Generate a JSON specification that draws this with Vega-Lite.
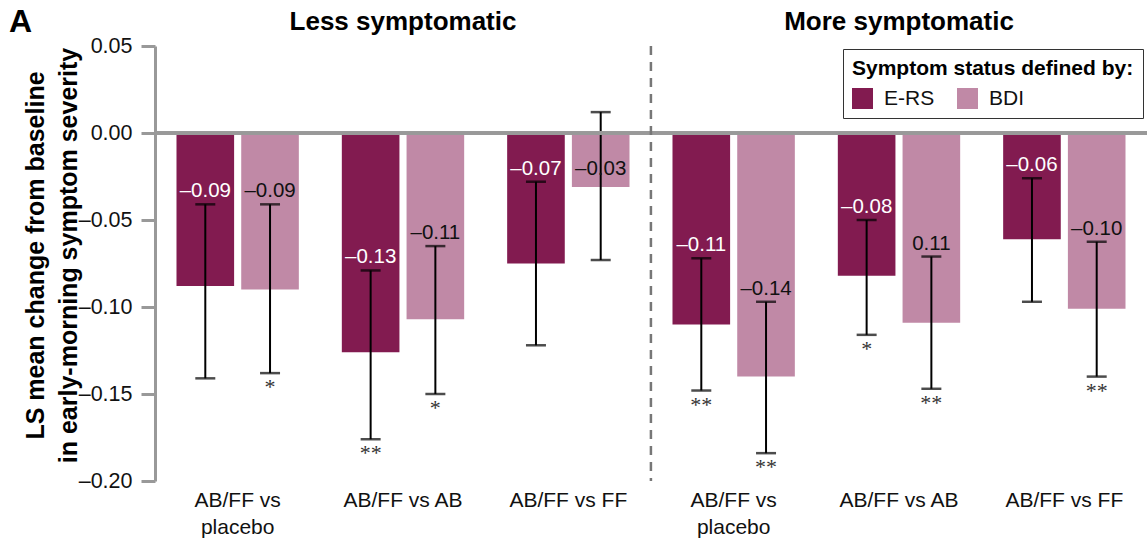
{
  "$schema": "https://vega.github.io/schema/vega-lite/v6.json",
  "width": 992,
  "height": 435,
  "autosize": {"type": "none"},
  "padding": {"left": 155, "top": 46, "right": 0, "bottom": 60},
  "background": "white",
  "title": {"text": "A", "anchor": "start", "frame": "group", "dx": -146, "dy": 30, "baseline": "top", "fontSize": 32, "fontWeight": "bold", "font": "Liberation Sans", "color": "#000", "offset": 0},
  "config": {"font": "Liberation Sans", "view": {"stroke": null}},
  "datasets": {
    "bars": [
      {"key": "Less symptomatic|AB/FF vs placebo", "status": "E-RS", "mean": -0.088, "lo": -0.141, "hi": -0.041, "labelAt": -0.041, "label": "–0.09", "sig": ""},
      {"key": "Less symptomatic|AB/FF vs placebo", "status": "BDI", "mean": -0.090, "lo": -0.138, "hi": -0.041, "labelAt": -0.041, "label": "–0.09", "sig": "*"},
      {"key": "Less symptomatic|AB/FF vs AB", "status": "E-RS", "mean": -0.126, "lo": -0.176, "hi": -0.079, "labelAt": -0.079, "label": "–0.13", "sig": "**"},
      {"key": "Less symptomatic|AB/FF vs AB", "status": "BDI", "mean": -0.107, "lo": -0.150, "hi": -0.065, "labelAt": -0.065, "label": "–0.11", "sig": "*"},
      {"key": "Less symptomatic|AB/FF vs FF", "status": "E-RS", "mean": -0.075, "lo": -0.122, "hi": -0.028, "labelAt": -0.028, "label": "–0.07", "sig": ""},
      {"key": "Less symptomatic|AB/FF vs FF", "status": "BDI", "mean": -0.031, "lo": -0.073, "hi": 0.012, "labelAt": -0.028, "label": "–0.03", "sig": ""},
      {"key": "More symptomatic|AB/FF vs placebo", "status": "E-RS", "mean": -0.110, "lo": -0.148, "hi": -0.072, "labelAt": -0.072, "label": "–0.11", "sig": "**"},
      {"key": "More symptomatic|AB/FF vs placebo", "status": "BDI", "mean": -0.140, "lo": -0.184, "hi": -0.097, "labelAt": -0.097, "label": "–0.14", "sig": "**"},
      {"key": "More symptomatic|AB/FF vs AB", "status": "E-RS", "mean": -0.082, "lo": -0.116, "hi": -0.050, "labelAt": -0.050, "label": "–0.08", "sig": "*"},
      {"key": "More symptomatic|AB/FF vs AB", "status": "BDI", "mean": -0.109, "lo": -0.147, "hi": -0.071, "labelAt": -0.071, "label": "0.11", "sig": "**"},
      {"key": "More symptomatic|AB/FF vs FF", "status": "E-RS", "mean": -0.061, "lo": -0.097, "hi": -0.026, "labelAt": -0.026, "label": "–0.06", "sig": ""},
      {"key": "More symptomatic|AB/FF vs FF", "status": "BDI", "mean": -0.101, "lo": -0.140, "hi": -0.0625, "labelAt": -0.0625, "label": "–0.10", "sig": "**"}
    ],
    "sections": [
      {"key": "Less symptomatic|AB/FF vs AB", "section": "Less symptomatic"},
      {"key": "More symptomatic|AB/FF vs AB", "section": "More symptomatic"}
    ],
    "divider": [
      {"key": "Less symptomatic|AB/FF vs FF"}
    ]
  },
  "layer": [
    {
      "data": {"name": "bars"},
      "mark": {"type": "bar"},
      "encoding": {
        "x": {
          "field": "key", "type": "nominal", "sort": null,
          "scale": {"paddingInner": 0.26, "paddingOuter": 0.13},
          "axis": {
            "title": null, "domain": false, "ticks": false, "labelAngle": 0,
            "labelFontSize": 21, "labelColor": "#111", "labelPadding": 8, "labelLineHeight": 27,
            "labelExpr": "indexof(datum.label, 'placebo') >= 0 ? ['AB/FF vs', 'placebo'] : split(datum.label, '|')[1]"
          }
        },
        "xOffset": {"field": "status", "type": "nominal", "sort": ["E-RS", "BDI"], "scale": {"paddingInner": 0.11, "paddingOuter": 0}},
        "y": {
          "field": "mean", "type": "quantitative",
          "scale": {"domain": [-0.2, 0.05], "nice": false, "zero": false},
          "axis": {
            "title": ["LS mean change from baseline", "in early-morning symptom severity"],
            "titleFontSize": 25, "titleFontWeight": "bold", "titleColor": "#000", "titleLineHeight": 33, "titlePadding": -3, "titleY": 209,
            "values": [-0.2, -0.15, -0.1, -0.05, 0, 0.05],
            "labelExpr": "replace(replace(format(datum.value, '.2f'), '−', '–'), '-', '–')",
            "labelFontSize": 21.5, "labelColor": "#111", "labelPadding": 9,
            "domainColor": "#999", "domainWidth": 3, "tickColor": "#999", "tickWidth": 3, "tickSize": 14,
            "grid": false
          }
        },
        "y2": {"datum": 0},
        "color": {
          "field": "status", "type": "nominal",
          "scale": {"domain": ["E-RS", "BDI"], "range": ["#821B50", "#C089A6"]},
          "legend": {
            "orient": "none", "legendX": 688, "legendY": 3, "direction": "horizontal",
            "title": "Symptom status defined by:", "titleFontSize": 21, "titleFontWeight": "bold", "titleColor": "#000", "titlePadding": 9, "titleLimit": 500,
            "labelFontSize": 21, "labelColor": "#111", "labelOffset": 11,
            "symbolType": "square", "symbolSize": 441, "symbolStrokeWidth": 0, "symbolOpacity": 1,
            "columnPadding": 22, "padding": 9, "strokeColor": "#333", "fillColor": "white"
          }
        }
      }
    },
    {
      "data": {"name": "bars"},
      "mark": {"type": "rule", "color": "#000", "strokeWidth": 2},
      "encoding": {
        "x": {"field": "key", "type": "nominal", "sort": null},
        "xOffset": {"field": "status", "type": "nominal", "sort": ["E-RS", "BDI"]},
        "y": {"field": "lo", "type": "quantitative"},
        "y2": {"field": "hi"}
      }
    },
    {
      "data": {"name": "bars"},
      "mark": {"type": "tick", "color": "#000", "size": 20, "thickness": 2.5, "orient": "horizontal"},
      "encoding": {
        "x": {"field": "key", "type": "nominal", "sort": null},
        "xOffset": {"field": "status", "type": "nominal", "sort": ["E-RS", "BDI"]},
        "y": {"field": "lo", "type": "quantitative"}
      }
    },
    {
      "data": {"name": "bars"},
      "mark": {"type": "tick", "color": "#000", "size": 20, "thickness": 2.5, "orient": "horizontal"},
      "encoding": {
        "x": {"field": "key", "type": "nominal", "sort": null},
        "xOffset": {"field": "status", "type": "nominal", "sort": ["E-RS", "BDI"]},
        "y": {"field": "hi", "type": "quantitative"}
      }
    },
    {
      "data": {"name": "bars"},
      "mark": {"type": "text", "fontSize": 20.5, "baseline": "alphabetic", "dy": -7},
      "encoding": {
        "x": {"field": "key", "type": "nominal", "sort": null},
        "xOffset": {"field": "status", "type": "nominal", "sort": ["E-RS", "BDI"]},
        "y": {"field": "labelAt", "type": "quantitative"},
        "text": {"field": "label"},
        "color": {"field": "status", "type": "nominal", "scale": {"domain": ["E-RS", "BDI"], "range": ["#ffffff", "#111111"]}, "legend": null}
      }
    },
    {
      "data": {"name": "bars"},
      "mark": {"type": "text", "fontSize": 22, "font": "Liberation Serif", "baseline": "top", "dy": 4, "color": "#333"},
      "encoding": {
        "x": {"field": "key", "type": "nominal", "sort": null},
        "xOffset": {"field": "status", "type": "nominal", "sort": ["E-RS", "BDI"]},
        "y": {"field": "lo", "type": "quantitative"},
        "text": {"field": "sig"}
      }
    },
    {
      "data": {"name": "bars"},
      "mark": {"type": "rule", "color": "#999", "strokeWidth": 3},
      "encoding": {"y": {"datum": 0}}
    },
    {
      "data": {"name": "divider"},
      "mark": {"type": "rule", "color": "#777", "strokeWidth": 2.5, "strokeDash": [9, 7]},
      "encoding": {
        "x": {"field": "key", "type": "nominal", "sort": null, "bandPosition": 1.175}
      }
    },
    {
      "data": {"name": "sections"},
      "mark": {"type": "text", "fontSize": 26, "fontWeight": "bold", "color": "#000", "baseline": "middle", "dy": -24},
      "encoding": {
        "x": {"field": "key", "type": "nominal", "sort": null},
        "y": {"datum": 0.05},
        "text": {"field": "section"}
      }
    }
  ],
  "resolve": {"scale": {"color": "independent"}}
}
